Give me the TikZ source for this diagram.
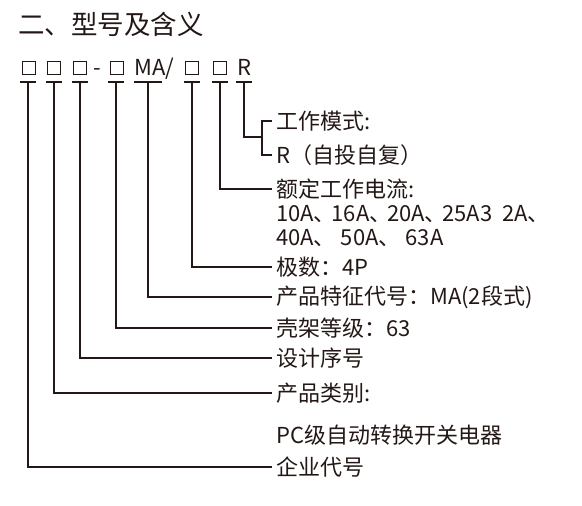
\documentclass[tikz,border=0pt]{standalone}
\usepackage{fontspec}
\setmainfont{Noto Sans CJK SC}
\usetikzlibrary{positioning,calc}

\definecolor{inkdark}{HTML}{231815}

\newcommand{\tightdun}{、\kern-.2em}

\tikzset{
  conn/.style={draw=inkdark, line width=1.1pt},
  codebox/.style={draw=inkdark, line width=0.8pt, minimum size=13.5pt, inner sep=0pt},
  codetext/.style={anchor=base, text=inkdark, inner sep=0pt, font=\fontsize{22}{22}\selectfont},
  meaning/.style={anchor=west, text=inkdark, inner xsep=4pt, inner ysep=0pt,
    font=\fontsize{22}{24}\selectfont},
}

\begin{document}
\begin{tikzpicture}[x=1pt,y=-1pt]
  \useasboundingbox (0,0) rectangle (582,506);

  % heading
  \node[anchor=west, text=inkdark, inner sep=0pt, font=\fontsize{26.5}{27}\selectfont]
    (title) at (18,24) {二、型号及含义};

  % the model code
  \node[codebox]  (c1) at (29,68)  {};
  \node[codebox]  (c2) at (54,68)  {};
  \node[codebox]  (c3) at (80,68)  {};
  \node[codetext] (dash) at (97,75) {-};
  \node[codebox]  (c4) at (117,68) {};
  \node[codetext] (c5) at (150,75) {MA};
  \node[codetext] (slash) at (170,75) {/};
  \node[codebox]  (c6) at (192,68) {};
  \node[codebox]  (c7) at (220,68) {};
  \node[codetext] (c8) at (244,75) {R};

  % short bars under each field, with the point where its line starts
  \foreach \name/\xc/\hw in {t1/28/8, t2/54/8, t3/80/8, t4/116/8,
                             t5/148/14, t6/192/8, t7/220/8, t8/244/8} {
    \coordinate (\name) at (\xc,82);
    \draw[conn] ($(\name)+(-\hw,0)$) -- ($(\name)+(\hw,0)$);
  }

  % meanings on the right
  \node[meaning] (m1)  at (272,121) {工作模式:};
  \node[meaning] (m2)  at (272,155) {R（自投自复）};
  \node[meaning] (m3)  at (272,189) {额定工作电流:};
  \node[meaning] (m3b) at (272,214) {10A\tightdun 16A\tightdun 20A\tightdun 25A3\hspace{.45em}2A、};
  \node[meaning] (m3c) at (272,238) {40A、 50A、 63A};
  \node[meaning] (m4)  at (272,267) {极数：4P};
  \node[meaning] (m5)  at (272,297) {产品特征代号：MA(2段式)};
  \node[meaning] (m6)  at (272,328) {壳架等级：63};
  \node[meaning] (m7)  at (272,358) {设计序号};
  \node[meaning] (m8)  at (272,393) {产品类别:};
  \node[meaning] (m8b) at (272,435) {PC级自动转换开关电器};
  \node[meaning] (m9)  at (272,467) {企业代号};

  % the R field splits into two lines
  \coordinate (fork) at (262,137);
  \draw[conn] (t8) |- (fork);
  \draw[conn] (m1.west) -| (fork) |- (m2.west);

  % the other fields
  \draw[conn] (t7) |- (m3.west);
  \draw[conn] (t6) |- (m4.west);
  \draw[conn] (t5) |- (m5.west);
  \draw[conn] (t4) |- (m6.west);
  \draw[conn] (t3) |- (m7.west);
  \draw[conn] (t2) |- (m8.west);
  \draw[conn] (t1) |- (m9.west);
\end{tikzpicture}
\end{document}
